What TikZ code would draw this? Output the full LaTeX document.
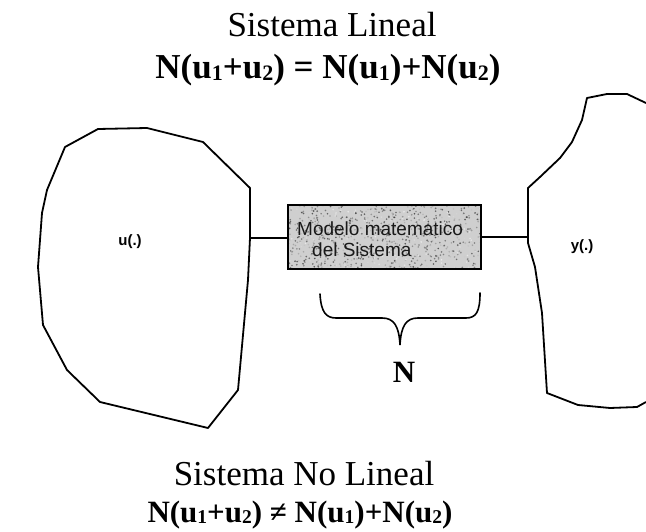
\documentclass[tikz,border=0pt]{standalone}
\usepackage{fontspec}
\usepackage{graphicx}
\setmainfont{Liberation Serif}
\setsansfont{Liberation Sans}
% small index set just under the baseline
\newcommand{\lowidx}[1]{\raisebox{-0.045em}{\scalebox{0.63}{#1}}}
\begin{document}
\begin{tikzpicture}[x=1pt,y=-1pt,
  outline/.style={draw=black,line width=1.8pt,line join=round},
  link/.style={draw=black,line width=1.4pt},
  title/.style={font=\fontsize{35}{40}\selectfont,inner sep=0pt,anchor=base},
  formula/.style={font=\fontsize{35}{40}\selectfont\bfseries,inner sep=0pt,anchor=base},
  tag/.style={font=\sffamily\bfseries\fontsize{15}{18}\selectfont,inner sep=1pt}]
\useasboundingbox (0,0) rectangle (646,532);
\pgfmathsetseed{7}

% titles
\node[title] (t1) at (332,37) {Sistema Lineal};
\node[formula] (f1) at (328,79) {N(u\lowidx{1}+u\lowidx{2}) = N(u\lowidx{1})+N(u\lowidx{2})};
\node[title] (t2) at (304,485) {Sistema No Lineal};
\node[formula,font=\fontsize{31}{36}\selectfont\bfseries] (f2) at (300,522) {N(u\lowidx{1}+u\lowidx{2}) ≠ N(u\lowidx{1})+N(u\lowidx{2})};

% input region
\draw[outline] (98,129) -- (147,128) -- (203,142) -- (250,188) -- (250,238)
  -- (248,280) -- (238,390) -- (208,428) -- (100,402) -- (67,370)
  -- (43,325) -- (38,267) -- (42,213) -- (47,190) -- (65,147) -- cycle;
\node[tag] (u) at (130,242) {u(.)};
\coordinate (uout) at (250,238);

% output region (runs off the right edge)
\draw[outline] (646,103) -- (627,94) -- (607,94) -- (587,98) -- (582,120)
  -- (572,142) -- (560,158) -- (540,177) -- (528,188) -- (528,243)
  -- (535,267) -- (542,313) -- (547,393) -- (578,405) -- (610,408)
  -- (637,407) -- (646,402);
\node[tag] (y) at (582,247) {y(.)};
\coordinate (yin) at (528,237);

% model block with grainy fill
\fill[gray!38] (288,205) rectangle (481,269);
\foreach \i in {1,...,900}{
  \pgfmathsetmacro{\px}{288+193*rnd}
  \pgfmathsetmacro{\py}{205+64*rnd}
  \pgfmathsetmacro{\sh}{100*rnd}
  \fill[black!\sh!white,opacity=0.6] (\px,\py) circle (0.9);
}
\node[draw=black,line width=1.6pt,minimum width=193pt,minimum height=64pt,inner sep=0pt] (m) at (384.5,237) {};
\node[font=\sffamily\fontsize{19}{21}\selectfont,align=left,inner sep=0pt,anchor=north west,text=black!90] (mt) at (297,222)
  {Modelo matematico\\[-0.5pt]\hspace*{15pt}del Sistema};

% connectors
\draw[link] (uout) -- (m.west |- uout);
\draw[link] (m.east |- yin) -- (yin);

% brace under the block
\coordinate (bl) at (320,294);
\coordinate (bt) at (400,345);
\coordinate (br) at (480,293);
\draw[line width=1.6pt,line cap=round] (bl) .. controls (321,312) and (326,318) .. (336,318)
  -- (382,318) .. controls (394,318) and (399,326) .. (bt)
  .. controls (401,326) and (406,318) .. (418,318)
  -- (466,318) .. controls (476,318) and (480,312) .. (br);
\node[formula,font=\fontsize{31}{34}\selectfont\bfseries] (N) at (404,382) {N};
\end{tikzpicture}
\end{document}
